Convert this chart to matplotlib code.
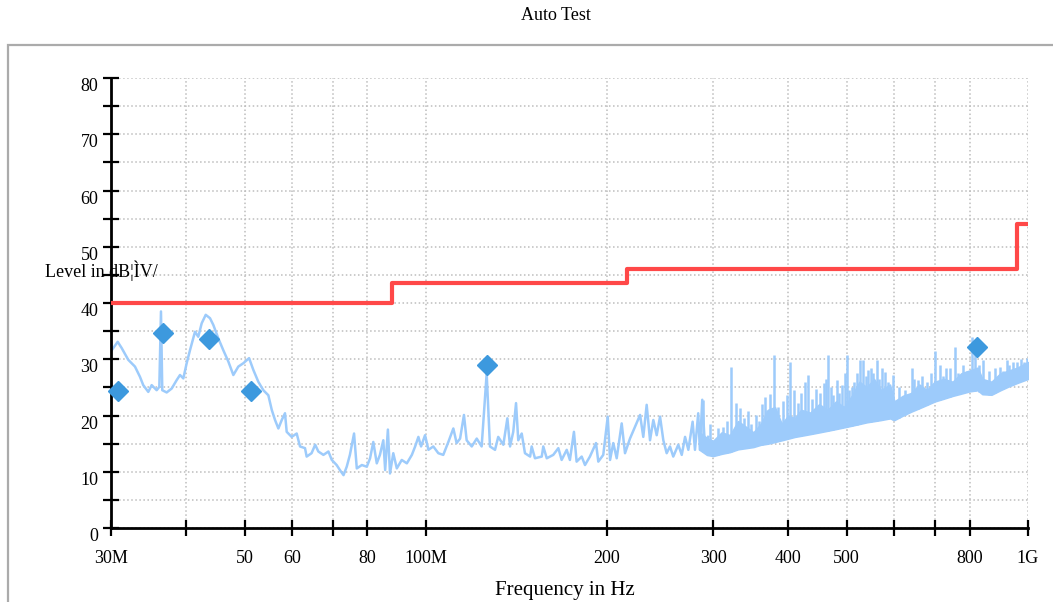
import numpy as np
import matplotlib
matplotlib.use('Agg')
import matplotlib.pyplot as plt
from matplotlib.patches import Rectangle

plt.rcParams['font.family'] = ['Liberation Serif', 'DejaVu Serif']

# measured trace, 30 MHz .. ~295 MHz (MHz, dBuV)
trace_mhz = [30.08, 30.78, 31.25, 32.05, 32.88, 33.51, 33.94, 34.60, 35.05, 35.73,
             36.09, 36.32, 36.50, 37.12, 37.84, 38.57, 39.06, 39.56, 40.07, 40.58,
             41.37, 41.89, 42.44, 43.10, 43.81, 44.37, 45.23, 46.10, 46.99, 47.90,
             48.82, 49.77, 50.87, 51.71, 52.70, 53.72, 54.76, 55.48, 56.18, 56.90,
             57.64, 58.36, 58.74, 59.87, 61.03, 61.81, 63.00, 63.4, 64.6, 65.5,
             66.3, 67.6, 68.9, 69.8, 71.1, 72.0, 73.0, 73.9, 74.8, 76.0,
             76.8, 78.3, 79.8, 80.8, 81.8, 82.9, 83.9, 85.0, 85.6, 86.5,
             87.2, 88.3, 89.5, 91.2, 93.0, 94.8, 96.0, 97.2, 98.2, 99.7,
             101.0, 102.9, 104.9, 106.9, 109.0, 111.1, 112.5, 114.0, 115.7, 116.9,
             119.2, 121.5, 123.8, 126.2, 127.8, 130.3, 131.9, 134.5, 136.6, 138.0,
             139.7, 141.2, 142.4, 144.3, 146.1, 149.0, 149.9, 151.8, 155.8, 156.7,
             158.8, 162.8, 166.0, 168.1, 171.4, 173.5, 176.2, 178.0, 181.5, 183.8,
             187.3, 191.7, 193.4, 197.1, 200.5, 202.3, 204.8, 207.5, 211.5, 214.2,
             218.3, 222.6, 226.9, 229.7, 232.7, 235.7, 238.7, 241.8, 244.9, 248.0,
             251.2, 254.4, 257.6, 262.6, 266.1, 269.5, 272.9, 277.4, 279.9, 283.4,
             285.2, 287.8, 290.8, 294.5]
trace_db = [31.6, 33.1, 32.0, 29.9, 28.7, 26.9, 25.4, 24.2, 25.4, 24.5,
            25.1, 38.5, 24.5, 24.1, 24.8, 26.3, 27.2, 26.6, 29.3, 31.6,
            34.9, 34.0, 36.4, 37.9, 37.3, 36.1, 33.7, 31.6, 29.6, 27.2,
            28.7, 29.3, 30.2, 28.1, 26.0, 24.5, 23.6, 21.0, 19.2, 17.7,
            19.2, 20.4, 17.1, 16.2, 16.8, 14.5, 14.2, 12.7, 13.3, 14.8,
            13.6, 13.0, 13.6, 12.1, 11.2, 10.3, 9.4, 10.9, 13.0, 16.8,
            10.6, 11.2, 10.9, 12.4, 15.3, 11.5, 13.0, 15.6, 10.3, 17.5,
            9.7, 13.3, 10.6, 12.1, 11.5, 13.0, 14.5, 16.2, 14.5, 16.5,
            13.9, 14.5, 13.3, 13.0, 15.3, 17.7, 15.1, 15.9, 20.1, 15.6,
            14.5, 15.9, 14.5, 27.5, 14.5, 13.9, 16.2, 14.8, 19.5, 14.5,
            17.1, 22.2, 15.6, 16.8, 13.3, 12.7, 14.5, 12.4, 12.7, 14.5,
            12.4, 13.0, 14.2, 12.1, 13.9, 12.1, 17.1, 11.8, 12.7, 11.2,
            12.7, 15.1, 11.8, 13.0, 19.8, 12.1, 15.1, 12.4, 18.6, 13.3,
            15.9, 18.0, 20.1, 16.2, 21.9, 15.6, 19.2, 16.5, 19.8, 15.6,
            13.3, 14.5, 12.7, 14.8, 13.0, 16.2, 13.9, 18.9, 13.9, 20.4,
            13.9, 22.8, 14.5, 16.2]

# noise band of the dense sweep above ~285 MHz: floor and top of the mass
band_mhz = [285, 293, 300, 310, 320, 330, 340, 350, 360, 370,
            380, 390, 400, 410, 420, 435, 450, 465, 480, 495,
            510, 525, 540, 555, 570, 590, 600, 620, 640, 660,
            680, 700, 725, 750, 775, 800, 825, 840, 870, 900,
            930, 960, 1000]
band_lo = [13.9, 13.0, 12.8, 13.2, 13.5, 14.0, 14.2, 14.4, 14.8, 15.0,
           15.3, 15.6, 15.9, 16.2, 16.4, 16.7, 17.0, 17.3, 17.6, 17.9,
           18.2, 18.5, 18.8, 19.0, 19.2, 19.5, 19.2, 20.0, 20.7, 21.3,
           21.9, 22.5, 23.0, 23.5, 23.9, 24.3, 24.5, 23.8, 23.7, 24.5,
           25.2, 25.8, 26.5]
band_hi = [17.0, 16.0, 15.5, 17.0, 16.5, 19.0, 18.0, 17.0, 18.5, 21.0,
           21.5, 18.5, 20.0, 19.5, 21.0, 20.5, 22.0, 21.0, 22.5, 21.5,
           23.5, 26.0, 25.0, 26.5, 24.5, 25.5, 22.5, 23.5, 24.0, 25.5,
           24.5, 26.0, 26.5, 26.0, 27.5, 28.0, 28.5, 26.5, 26.0, 27.5,
           28.0, 28.5, 29.5]

# single spikes standing above the band
spike_mhz = [288.3, 296, 306, 312, 316, 321, 327.7, 332.5, 338, 343,
             347, 353.5, 358, 362, 366, 369, 373, 378.6, 384.9, 392,
             397.5, 402.6, 408, 415.6, 420, 426, 431.8, 438, 444.6, 452,
             458.6, 462, 466.2, 470, 475.2, 481.3, 486, 490.5, 496, 500.0,
             504, 509.8, 515, 520, 526.2, 533, 538, 543, 548, 552,
             560.8, 566, 571.5, 580, 586, 597.9, 610, 625, 641.3, 648,
             657.6, 668, 680, 690, 700.9, 714, 722, 732, 742, 756.4,
             765, 780, 792, 806.6, 816, 830, 843, 862, 880, 898.8,
             910, 921.9, 930, 944, 960, 975, 985, 995.5]
spike_db = [22.8, 18.5, 17.7, 18.0, 19.0, 28.7, 22.2, 21.3, 19.5, 20.8,
            18.5, 20.1, 19.0, 22.0, 23.3, 21.0, 23.9, 30.8, 21.6, 22.5,
            23.6, 29.6, 24.5, 22.2, 24.0, 26.0, 27.2, 23.0, 24.8, 24.0,
            25.7, 26.5, 30.8, 25.0, 23.6, 26.3, 24.0, 25.4, 27.5, 30.8,
            24.5, 25.1, 26.0, 27.5, 29.9, 29.9, 27.0, 28.1, 28.5, 27.5,
            29.9, 26.5, 28.4, 27.8, 26.0, 27.2, 25.0, 24.5, 28.4, 26.5,
            26.3, 27.0, 26.0, 27.5, 31.4, 28.9, 27.0, 28.5, 28.4, 32.2,
            27.5, 29.0, 28.0, 34.0, 31.0, 29.0, 29.9, 28.0, 28.5, 28.7,
            28.0, 29.9, 29.0, 29.5, 29.5, 30.0, 29.5, 30.2]

# final measurement markers
marker_mhz = [30.84, 36.64, 43.7, 51.18, 126.2, 823.9]
marker_db = [24.4, 34.6, 33.6, 24.4, 29.0, 32.1]

# limit line (step edges)
limit_mhz = [30, 88, 216, 960, 1000]
limit_db = [40, 43.5, 46, 54, 54]

xtick_mhz = [30, 40, 50, 60, 70, 80, 100, 200, 300, 400, 500, 600, 700, 800, 1000]
xtick_txt = ['30M', '', '50', '60', '', '80', '100M', '200', '300', '400', '500',
             '', '', '800', '1G']

trace_col = '#9dcbfb'

fig = plt.figure(figsize=(10.53, 6.02), dpi=100)
ax = fig.add_axes([0.1054, 0.1229, 0.8708, 0.7475])
ax.set_xscale('log')
ax.set_xlim(30, 1000)
ax.set_ylim(0, 80)

ax.fill_between(band_mhz, band_lo, band_hi, color=trace_col, lw=1.2, zorder=2)
base = np.interp(np.log10(spike_mhz), np.log10(band_mhz), band_lo)
ax.vlines(spike_mhz, base, spike_db, color=trace_col, lw=1.8, zorder=2)
ax.plot(trace_mhz, trace_db, color=trace_col, lw=1.8, zorder=2)
ax.step(limit_mhz, limit_db, where='post', color='#ff4848', lw=3, zorder=3)
ax.plot(marker_mhz, marker_db, 'D', ms=10.5, color='#3d99de', mec='#3d99de',
        clip_on=False, zorder=5)

ax.set_xticks(xtick_mhz)
ax.set_xticklabels(xtick_txt)
ax.xaxis.set_minor_locator(matplotlib.ticker.NullLocator())
ax.set_yticks(range(0, 85, 5))
ax.set_yticklabels([str(v) if v % 10 == 0 else '' for v in range(0, 85, 5)])
for t in ax.yaxis.get_major_ticks():
    t.label1.set_verticalalignment('top')

ax.tick_params(direction='inout', length=12, width=1.6, labelsize=13, color='black')
ax.tick_params(axis='x', pad=10)
ax.tick_params(axis='y', pad=3)
ax.grid(True, ls=':', color='#bdbdbd', lw=1.1)
ax.set_axisbelow(True)

for s in ['top', 'right']:
    ax.spines[s].set_visible(False)
for s in ['left', 'bottom']:
    ax.spines[s].set_linewidth(2)
    ax.spines[s].set_color('black')

fig.text(556 / 1053, 1 - 16 / 602, 'Auto Test', ha='center', va='center', fontsize=13)
fig.text(45 / 1053, 1 - 271 / 602, 'Level in dB¦ÌV/', ha='left', va='center', fontsize=13)
fig.text(565 / 1053, 1 - 590 / 602, 'Frequency in Hz', ha='center', va='center', fontsize=15)

fig.patches.append(Rectangle((8 / 1053, -0.1), 1.2, 1 - 45 / 602 + 0.1,
                             transform=fig.transFigure, fill=False,
                             ec='#ababab', lw=1.6))

fig.savefig('out.png', dpi=100)
